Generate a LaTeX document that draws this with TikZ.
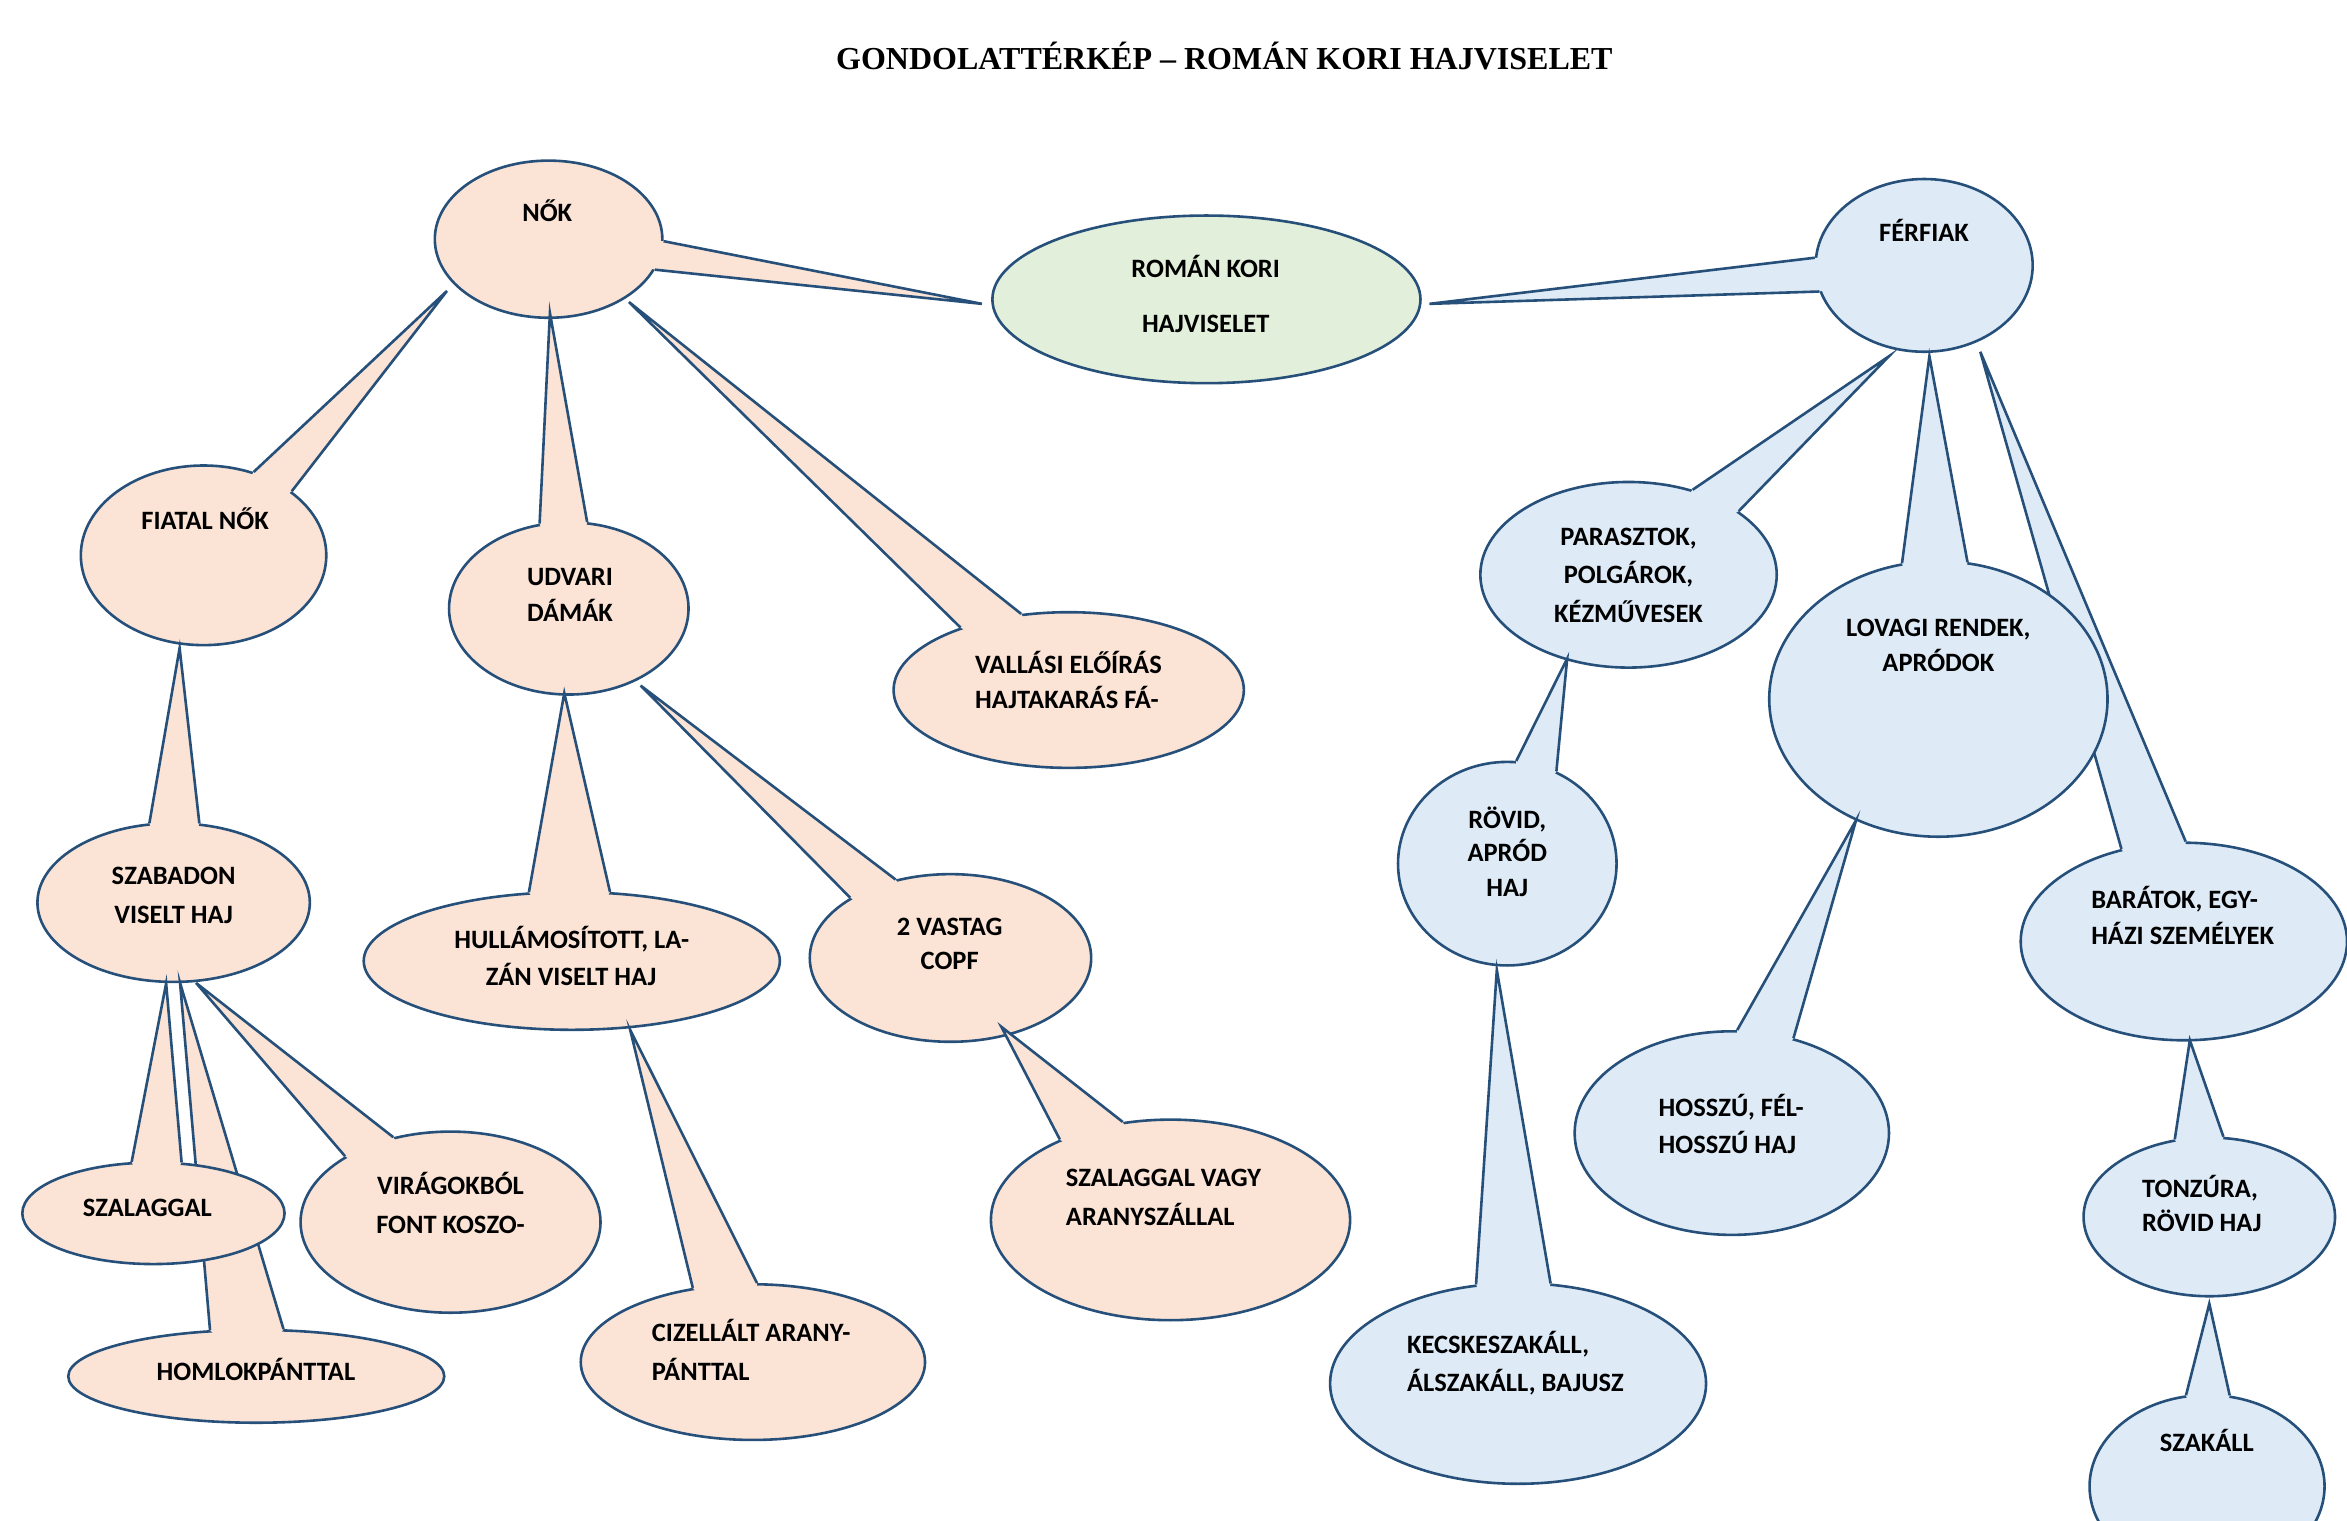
\documentclass[tikz,border=0pt]{standalone}
\usepackage{fontspec}
\setmainfont{Carlito}
\newfontfamily\ttlfont{Liberation Serif}
\usetikzlibrary{shapes.geometric}
\definecolor{ol}{RGB}{38,80,122}
\definecolor{pk}{RGB}{251,228,214}
\definecolor{gr}{RGB}{226,239,218}
\definecolor{bl}{RGB}{222,235,247}
\tikzset{
  bub/.style 2 args={ellipse, draw=ol, line width=2.6pt, inner sep=0pt,
    minimum width=#1*2.9936pt, minimum height=#2*2.9936pt},
  wside/.style={draw=ol, line width=2.6pt, line join=miter},
  lbl/.style={font=\bfseries\fontsize{26.5}{30}\selectfont, inner sep=0pt, anchor=base},
  lbll/.style={lbl, anchor=base west},
  ttl/.style={font=\ttlfont\bfseries\fontsize{32}{36}\selectfont, inner sep=0pt, anchor=base},
}
% #1 name, #2 centre, #3 rx, #4 ry, #5 fill, #6 tip (on parent), #7 #8 base angles
\newcommand\bubble[8]{%
  \node[bub={#3}{#4}, fill=#5] (#1) at (#2) {};
  \coordinate (#1-tip) at (#6);
  \fill[#5] (#1.#7) -- (#1-tip) -- (#1.#8) -- (#1.center) -- cycle;
  \draw[wside] (#1.#7) -- (#1-tip) -- (#1.#8);}
\begin{document}
\begin{tikzpicture}[x=1.4968pt,y=-1.4968pt]
\path[use as bounding box, fill=white] (0,0) rectangle (1568,1016);
\node[ttl] (title) at (818,46.1) {GONDOLATTÉRKÉP – ROMÁN KORI HAJVISELET};

\node[bub={143}{56}, fill=gr] (root) at (806,200) {};
\bubble{nok}{366.5,159.8}{76}{52.5}{pk}{656,203}{359}{344}
\bubble{fer}{1285.5,177.3}{72.5}{57.7}{bl}{955,203}{176}{194}
% women
\bubble{fia}{136,371}{82}{60}{pk}{298.6,194.4}{59}{36}
\bubble{udv}{380,406.5}{80}{57.5}{pk}{367.4,209.1}{109}{78}
\bubble{vall}{714,461}{117}{52}{pk}{420.2,201.8}{150}{122}
\bubble{szab}{116,603}{91}{53}{pk}{120,433}{107}{72}
\bubble{hull}{382,642}{139}{46}{pk}{377,463}{122}{61}
\bubble{copf}{635,640}{94}{56}{pk}{428,458}{149}{125}
\bubble{hom}{171.2,919.5}{125.6}{31}{pk}{120.3,656.7}{135}{60}
\bubble{szal}{102.5,810.6}{87.6}{33.9}{pk}{111,657}{113}{61}
\bubble{vir}{301,816.5}{100.2}{60.5}{pk}{131,656.7}{148}{124}
\bubble{ciz}{503,910}{115}{52}{pk}{421,688}{129}{87}
\bubble{szv}{782,815}{120}{67}{pk}{669,686}{144}{116}
% men
\bubble{par}{1088,384}{99}{62}{bl}{1262,238}{53}{30}
\bubble{bar}{1459,629}{109}{66}{bl}{1323,235}{124}{89}
\bubble{lov}{1295,467}{113}{92}{bl}{1289,238}{105}{78}
\bubble{rov}{1007,577}{73}{68}{bl}{1047,440}{85}{62}
\bubble{hos}{1157,757}{105}{68}{bl}{1240,548}{87}{57}
\bubble{kec}{1014.2,924.3}{125.6}{67}{bl}{1000,648}{113}{72}
\bubble{ton}{1476,813}{84}{53}{bl}{1463,695}{114}{80}
\bubble{szak}{1474.5,993}{78.5}{61}{bl}{1476,871}{103}{76}

% texts
\node[lbl] (t-root1) at (805.5,185.5) {ROMÁN KORI};
\node[lbl] (t-root2) at (805.5,222.2) {HAJVISELET};
\node[lbl] (t-nok) at (365.6,148.1) {NŐK};
\node[lbl] (t-fer) at (1285.4,161.1) {FÉRFIAK};
\node[lbl] (t-fia) at (137,353.7) {FIATAL NŐK};
\node[lbl] (t-udv1) at (380.8,391) {UDVARI};
\node[lbl] (t-udv2) at (380.8,415.5) {DÁMÁK};
\node[lbll] (t-vall1) at (651.4,450) {VALLÁSI ELŐÍRÁS};
\node[lbll] (t-vall2) at (651.4,473.4) {HAJTAKARÁS FÁ-};
\node[lbl] (t-szab1) at (116,590.7) {SZABADON};
\node[lbl] (t-szab2) at (116,616.7) {VISELT HAJ};
\node[lbl] (t-hull1) at (382,633.7) {HULLÁMOSÍTOTT, LA-};
\node[lbl] (t-hull2) at (381.5,658.7) {ZÁN VISELT HAJ};
\node[lbl] (t-copf1) at (634.5,624.7) {2 VASTAG};
\node[lbl] (t-copf2) at (634.5,647.7) {COPF};
\node[lbl] (t-szal) at (98.4,812.7) {SZALAGGAL};
\node[lbl] (t-vir1) at (301,798.1) {VIRÁGOKBÓL};
\node[lbl] (t-vir2) at (301,824.1) {FONT KOSZO-};
\node[lbl] (t-hom) at (171,922.1) {HOMLOKPÁNTTAL};
\node[lbll] (t-ciz1) at (435.4,896.3) {CIZELLÁLT ARANY-};
\node[lbll] (t-ciz2) at (435.4,922.1) {PÁNTTAL};
\node[lbll] (t-szv1) at (712,792.7) {SZALAGGAL VAGY};
\node[lbll] (t-szv2) at (712,818.7) {ARANYSZÁLLAL};
\node[lbl] (t-par1) at (1088,364.7) {PARASZTOK,};
\node[lbl] (t-par2) at (1088,389.7) {POLGÁROK,};
\node[lbl] (t-par3) at (1088,415.7) {KÉZMŰVESEK};
\node[lbl] (t-lov1) at (1295,425.5) {LOVAGI RENDEK,};
\node[lbl] (t-lov2) at (1295,448.9) {APRÓDOK};
\node[lbl] (t-rov1) at (1007,553.7) {RÖVID,};
\node[lbl] (t-rov2) at (1007,575.7) {APRÓD};
\node[lbl] (t-rov3) at (1007,598.7) {HAJ};
\node[lbll] (t-bar1) at (1397,606.7) {BARÁTOK, EGY-};
\node[lbll] (t-bar2) at (1397,630.7) {HÁZI SZEMÉLYEK};
\node[lbll] (t-hos1) at (1108,745.7) {HOSSZÚ, FÉL-};
\node[lbll] (t-hos2) at (1108,770.7) {HOSSZÚ HAJ};
\node[lbll] (t-ton1) at (1431,799.7) {TONZÚRA,};
\node[lbll] (t-ton2) at (1431,822.7) {RÖVID HAJ};
\node[lbll] (t-kec1) at (939.9,904.3) {KECSKESZAKÁLL,};
\node[lbll] (t-kec2) at (939.9,929.9) {ÁLSZAKÁLL, BAJUSZ};
\node[lbl] (t-szak) at (1474.3,969.7) {SZAKÁLL};
\end{tikzpicture}
\end{document}
